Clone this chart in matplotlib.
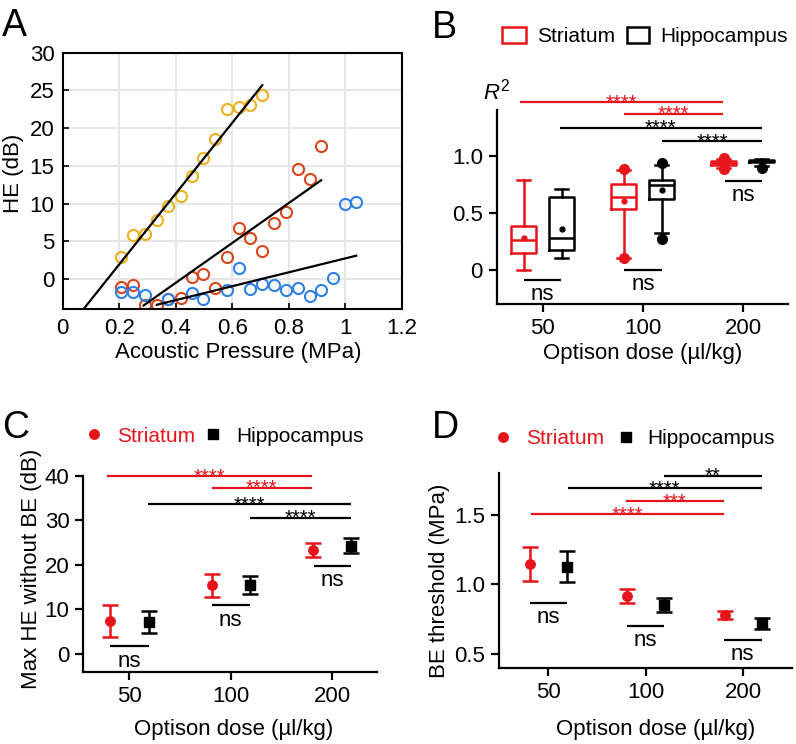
import numpy as np
import matplotlib
matplotlib.use('Agg')
import matplotlib.pyplot as plt
from matplotlib.patches import Rectangle
from matplotlib.lines import Line2D

plt.rcParams['font.family'] = ['Liberation Sans', 'DejaVu Sans']
plt.rcParams['mathtext.fontset'] = 'custom'
plt.rcParams['mathtext.it'] = 'Liberation Sans:italic'
plt.rcParams['mathtext.rm'] = 'Liberation Sans'

RED = '#e8141c'
YELLOW = '#edb120'
ORANGE = '#d9461b'
BLUE = '#2f80e8'

# ---- panel A: HE vs acoustic pressure (three example curves)
pressure_yellow = [0.205, 0.248, 0.29, 0.332, 0.374, 0.417, 0.457, 0.497, 0.539, 0.58, 0.622, 0.663, 0.706]
he_yellow = [2.9, 5.8, 6.0, 7.8, 9.7, 11.0, 13.7, 16.1, 18.6, 22.6, 22.8, 23.1, 24.4]

pressure_orange = [0.205, 0.248, 0.29, 0.332, 0.374, 0.417, 0.457, 0.497, 0.539, 0.58, 0.622,
                   0.663, 0.706, 0.747, 0.789, 0.832, 0.873, 0.914]
he_orange = [-1.1, -0.8, -3.4, -3.4, -2.6, -2.5, 0.3, 0.7, -1.2, 2.9, 6.8,
             5.4, 3.7, 7.5, 8.9, 14.6, 13.2, 17.6]

pressure_blue = [0.205, 0.248, 0.29, 0.374, 0.457, 0.497, 0.58, 0.622, 0.663, 0.706, 0.747,
                 0.789, 0.832, 0.873, 0.914, 0.956, 0.997, 1.038]
he_blue = [-1.7, -1.7, -2.1, -2.7, -1.9, -2.6, -1.5, 1.5, -1.3, -0.6, -0.8,
           -1.4, -1.2, -2.3, -1.5, 0.1, 9.9, 10.2]

fit_yellow_x = [0.073, 0.706]
fit_yellow_y = [-4.0, 25.7]
fit_orange_x = [0.286, 0.914]
fit_orange_y = [-3.5, 13.1]
fit_blue_x = [0.333, 1.038]
fit_blue_y = [-3.4, 3.1]

# ---- panels B-D: per dose, striatum vs hippocampus
doses = ['50', '100', '200']

r2_str_whislo = [0.0, 0.105, 0.895]
r2_str_q1 = [0.15, 0.535, 0.915]
r2_str_med = [0.265, 0.635, 0.935]
r2_str_q3 = [0.385, 0.755, 0.955]
r2_str_whishi = [0.79, 0.87, 0.975]
r2_str_mean = [0.28, 0.60, 0.93]
r2_str_fliers = [[], [0.10, 0.885], [0.885, 0.98]]

r2_hip_whislo = [0.10, 0.32, 0.91]
r2_hip_q1 = [0.175, 0.62, 0.945]
r2_hip_med = [0.28, 0.74, 0.955]
r2_hip_q3 = [0.635, 0.79, 0.965]
r2_hip_whishi = [0.71, 0.92, 0.97]
r2_hip_mean = [0.355, 0.695, 0.95]
r2_hip_fliers = [[], [0.27, 0.935], [0.89]]

maxhe_str_mean = [7.4, 15.4, 23.4]
maxhe_str_err = [3.5, 2.5, 1.5]
maxhe_hip_mean = [7.1, 15.5, 24.3]
maxhe_hip_err = [2.5, 2.1, 1.7]

thr_str_mean = [1.147, 0.918, 0.782]
thr_str_err = [0.122, 0.052, 0.028]
thr_hip_mean = [1.127, 0.851, 0.719]
thr_hip_err = [0.113, 0.053, 0.041]

# significance brackets: (x from, x to, y, label, colour)
sig_b = [(-0.225, 1.80, 1.47, '****', RED), (0.81, 1.80, 1.366, '****', RED),
         (0.17, 2.19, 1.243, '****', 'k'), (1.19, 2.19, 1.126, '****', 'k')]
ns_b = [(-0.19, 0.18, -0.088), (0.81, 1.19, -0.003), (1.82, 2.19, 0.778)]

sig_c = [(-0.223, 1.80, 40.0, '****', RED), (0.81, 1.80, 37.4, '****', RED),
         (0.18, 2.19, 33.7, '****', 'k'), (1.19, 2.19, 30.6, '****', 'k')]
ns_c = [(-0.19, 0.19, 1.7), (0.81, 1.19, 10.9), (1.82, 2.19, 19.8)]

sig_d = [(1.19, 2.19, 1.784, '**', 'k'), (0.205, 2.19, 1.692, '****', 'k'),
         (0.80, 1.80, 1.60, '***', RED), (-0.18, 1.80, 1.507, '****', RED)]
ns_d = [(-0.19, 0.19, 0.868), (0.81, 1.19, 0.70), (1.80, 2.19, 0.598)]

W, H = 796, 744
OFF = 0.19


def px_axes(fig, left, right, top, bottom):
    return fig.add_axes([left / W, 1 - bottom / H, (right - left) / W, (bottom - top) / H])


def style_prism(ax):
    for s in ['top', 'right']:
        ax.spines[s].set_visible(False)
    for s in ['left', 'bottom']:
        ax.spines[s].set_linewidth(1.6)
    ax.tick_params(direction='out', length=6, width=1.6, labelsize=16, pad=4)
    ax.set_xticks(range(3))
    ax.set_xticklabels(doses)


def add_brackets(ax, sig, ns):
    for x0, x1, y, lab, c in sig:
        ax.plot([x0, x1], [y, y], color=c, lw=1.6, clip_on=False, solid_capstyle='butt')
        ax.annotate(lab, xy=((x0 + x1) / 2, y), xytext=(0, -4.6), textcoords='offset points',
                    ha='center', va='baseline', fontsize=14.5, color=c, annotation_clip=False)
    for x0, x1, y in ns:
        ax.plot([x0, x1], [y, y], color='k', lw=1.6, clip_on=False, solid_capstyle='butt')
        ax.annotate('ns', xy=((x0 + x1) / 2, y), xytext=(0, -3), textcoords='offset points',
                    ha='center', va='top', fontsize=16, annotation_clip=False)


def set_labels(ax, xlabel, ylabel, xpos, ypos):
    ax.set_xlabel(xlabel, fontsize=16)
    ax.xaxis.set_label_coords(*xpos)
    ax.xaxis.label.set_va('center')
    if ylabel:
        ax.set_ylabel(ylabel, fontsize=16)
        ax.yaxis.set_label_coords(*ypos)
        ax.yaxis.label.set_va('center')


def legend_text(fig, x, y, s, color='k'):
    fig.text(x / W, 1 - (y + 2) / H, s, fontsize=15, color=color, va='center', ha='left')


fig = plt.figure(figsize=(W / 100, H / 100), dpi=100)

# ---------------- A
ax = px_axes(fig, 62.7, 402, 52.7, 309.3)
ax.grid(True, color='#e4e4e4', lw=1.3)
ax.set_axisbelow(True)
for xs, ys, c in [(pressure_yellow, he_yellow, YELLOW), (pressure_orange, he_orange, ORANGE),
                  (pressure_blue, he_blue, BLUE)]:
    ax.plot(xs, ys, 'o', mfc='none', mec=c, ms=8, mew=1.5)
for xs, ys in [(fit_yellow_x, fit_yellow_y), (fit_orange_x, fit_orange_y), (fit_blue_x, fit_blue_y)]:
    ax.plot(xs, ys, color='k', lw=1.6)
ax.set_xlim(0, 1.2)
ax.set_ylim(-4, 30)
ax.set_xticks(np.arange(0, 1.21, 0.2))
ax.set_xticklabels(['0', '0.2', '0.4', '0.6', '0.8', '1', '1.2'])
ax.set_yticks(range(0, 31, 5))
ax.tick_params(direction='in', length=4, width=1.2, labelsize=16, pad=6)
for s in ax.spines.values():
    s.set_linewidth(1.5)
set_labels(ax, 'Acoustic Pressure (MPa)', 'HE (dB)', (0.518, -0.167), (-0.145, 0.53))

# ---------------- B
ax = px_axes(fig, 496.7, 788, 110, 304)
pos = np.arange(3)
for whislo, q1, med, q3, whishi, mean, fliers, c, off in [
        (r2_str_whislo, r2_str_q1, r2_str_med, r2_str_q3, r2_str_whishi, r2_str_mean, r2_str_fliers, RED, -OFF),
        (r2_hip_whislo, r2_hip_q1, r2_hip_med, r2_hip_q3, r2_hip_whishi, r2_hip_mean, r2_hip_fliers, 'k', OFF)]:
    stats = [dict(whislo=whislo[i], q1=q1[i], med=med[i], q3=q3[i], whishi=whishi[i],
                  mean=mean[i], fliers=fliers[i]) for i in range(3)]
    lp = dict(color=c, lw=1.8)
    ax.bxp(stats, positions=pos + off, widths=0.25, capwidths=0.13, showmeans=True,
           boxprops=lp, whiskerprops=lp, capprops=lp, medianprops=lp,
           meanprops=dict(marker='o', mfc=c, mec=c, ms=3.5),
           flierprops=dict(marker='o', mfc=c, mec=c, ms=7), manage_ticks=False)
ax.set_xlim(-0.46, 2.45)
ax.set_ylim(-0.3, 1.4)
ax.set_yticks([0, 0.5, 1.0])
ax.set_yticklabels(['0', '0.5', '1.0'])
style_prism(ax)
add_brackets(ax, sig_b, ns_b)
set_labels(ax, 'Optison dose (µl/kg)', None, (0.502, -0.253), None)
fig.text(497 / W, 1 - 92 / H, r'$R^2$', fontsize=16, ha='center', va='center')
fig.add_artist(Rectangle((502 / W, 1 - 43 / H), 24 / W, 16 / H, transform=fig.transFigure,
                         fill=False, ec=RED, lw=1.8))
legend_text(fig, 536.7, 35, 'Striatum')
fig.add_artist(Rectangle((627 / W, 1 - 43 / H), 21.5 / W, 16 / H, transform=fig.transFigure,
                         fill=False, ec='k', lw=1.8))
legend_text(fig, 660, 35, 'Hippocampus')


def dot_panel(ax, str_mean, str_err, hip_mean, hip_err):
    ax.errorbar(pos - OFF, str_mean, yerr=str_err, fmt='o', color=RED, ms=6.8,
                capsize=5.5, elinewidth=1.8, capthick=1.8, clip_on=False)
    ax.errorbar(pos + OFF, hip_mean, yerr=hip_err, fmt='s', color='k', ms=6.5,
                capsize=5.5, elinewidth=1.8, capthick=1.8, clip_on=False)


# ---------------- C
ax = px_axes(fig, 83.3, 376.7, 476, 671.7)
dot_panel(ax, maxhe_str_mean, maxhe_str_err, maxhe_hip_mean, maxhe_hip_err)
ax.set_xlim(-0.455, 2.44)
ax.set_ylim(-4, 40)
ax.set_yticks(range(0, 41, 10))
style_prism(ax)
add_brackets(ax, sig_c, ns_c)
set_labels(ax, 'Optison dose (µl/kg)', 'Max HE without BE (dB)', (0.514, -0.293), (-0.176, 0.525))
fig.add_artist(Line2D([94.3 / W], [1 - 434.3 / H], marker='o', color=RED, ms=6.8,
                      transform=fig.transFigure))
legend_text(fig, 116.7, 434.5, 'Striatum', RED)
fig.add_artist(Line2D([213.3 / W], [1 - 434.3 / H], marker='s', color='k', ms=6.5,
                      transform=fig.transFigure))
legend_text(fig, 236, 434.5, 'Hippocampus')

# ---------------- D
ax = px_axes(fig, 499, 791.7, 473.3, 667.7)
dot_panel(ax, thr_str_mean, thr_str_err, thr_hip_mean, thr_hip_err)
ax.set_xlim(-0.506, 2.50)
ax.set_ylim(0.4, 1.8)
ax.set_yticks([0.5, 1.0, 1.5])
ax.set_yticklabels(['0.5', '1.0', '1.5'])
style_prism(ax)
add_brackets(ax, sig_d, ns_d)
set_labels(ax, 'Optison dose (µl/kg)', 'BE threshold (MPa)', (0.536, -0.32), (-0.2016, 0.449))
fig.add_artist(Line2D([503.3 / W], [1 - 436.7 / H], marker='o', color=RED, ms=6.8,
                      transform=fig.transFigure))
legend_text(fig, 526, 436.7, 'Striatum', RED)
fig.add_artist(Line2D([626 / W], [1 - 436.7 / H], marker='s', color='k', ms=6.5,
                      transform=fig.transFigure))
legend_text(fig, 647.3, 436.7, 'Hippocampus')

# panel letters
for x, y, lab in [(2, 26, 'A'), (432, 28, 'B'), (2, 428, 'C'), (432, 428, 'D')]:
    fig.text(x / W, 1 - y / H, lab, fontsize=27, ha='left', va='center')

fig.savefig('out.png', dpi=100)
